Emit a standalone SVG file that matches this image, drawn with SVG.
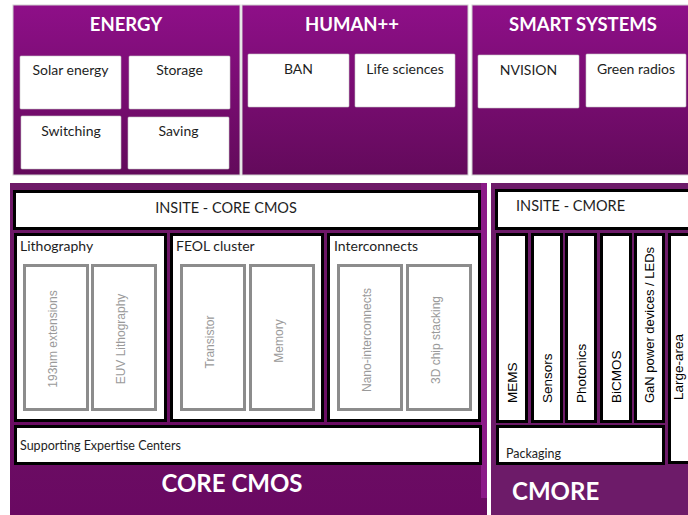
<svg xmlns="http://www.w3.org/2000/svg" width="688" height="515" viewBox="0 0 688 515">
<defs>
<linearGradient id="gTop" x1="0" y1="0" x2="0" y2="1">
<stop offset="0" stop-color="#8e0f88"/>
<stop offset="1" stop-color="#630a5b"/>
</linearGradient>
<linearGradient id="gCore" x1="0" y1="0" x2="0" y2="1">
<stop offset="0" stop-color="#6e1a68"/>
<stop offset="1" stop-color="#6a0962"/>
</linearGradient>
<style>
.ptop{fill:url(#gTop);stroke:#cfcfcf;stroke-width:1}
.wb{fill:#fff;stroke:#c8c8c8;stroke-width:0.6}
.bk{fill:#fff;stroke:#000;stroke-width:3}
.gr{fill:#fff;stroke:#8c8c8c;stroke-width:3}
.t{font-family:Lato,"Liberation Sans",sans-serif;font-size:14px;fill:#1e1e1e}
.h{font-family:Lato,"Liberation Sans",sans-serif;font-size:18.5px;font-weight:bold;fill:#fff;text-anchor:middle}
.big{font-family:Lato,"Liberation Sans",sans-serif;font-size:24px;font-weight:bold;fill:#fff}
.vg{font-family:"Liberation Sans",Arial,sans-serif;font-size:12px;fill:#9a9a9a;text-anchor:middle}
.vb{font-family:"Liberation Sans",Arial,sans-serif;font-size:13.5px;fill:#000}
.c{text-anchor:middle}
</style>
</defs>
<rect width="688" height="515" fill="#fff"/>

<g id="energy">
<rect class="ptop" x="13" y="5" width="227" height="170"/>
<text class="h" x="126" y="31">ENERGY</text>
<g id="solar"><rect class="wb" x="20" y="56" width="101" height="53" rx="1"/><text class="t c" x="70.5" y="75">Solar energy</text></g>
<g id="storage"><rect class="wb" x="129" y="56" width="101" height="53" rx="1"/><text class="t c" x="179.5" y="75">Storage</text></g>
<g id="switching"><rect class="wb" x="21" y="116" width="100" height="53" rx="1"/><text class="t c" x="71" y="136">Switching</text></g>
<g id="saving"><rect class="wb" x="128" y="117" width="101" height="52" rx="1"/><text class="t c" x="178.5" y="136">Saving</text></g>
</g>

<g id="human">
<rect class="ptop" x="242" y="5" width="226" height="170"/>
<text class="h" x="352" y="31">HUMAN++</text>
<g id="ban"><rect class="wb" x="248" y="54" width="101" height="53" rx="1"/><text class="t c" x="298.5" y="74">BAN</text></g>
<g id="life"><rect class="wb" x="355" y="54" width="100" height="53" rx="1"/><text class="t c" x="405" y="74">Life sciences</text></g>
</g>

<g id="smart">
<rect class="ptop" x="472" y="5" width="220" height="170"/>
<text class="h" x="583" y="31">SMART SYSTEMS</text>
<g id="nvision"><rect class="wb" x="478" y="55" width="101" height="53" rx="1"/><text class="t c" x="528.5" y="75">NVISION</text></g>
<g id="green"><rect class="wb" x="586" y="54" width="100" height="53" rx="1"/><text class="t c" x="636" y="74">Green radios</text></g>
</g>

<g id="corecmos">
<rect x="10" y="183" width="477" height="332" fill="url(#gCore)"/>
<rect x="481" y="183" width="6" height="315" fill="#8b1a88"/>
<g id="insite-core"><rect class="bk" x="14.5" y="191.5" width="465" height="37"/><text class="t c" x="226" y="213" style="font-size:14.5px">INSITE - CORE CMOS</text></g>
<g id="litho">
<rect class="bk" x="15.5" y="234.5" width="150" height="186"/>
<text class="t" x="20" y="251">Lithography</text>
<rect class="gr" x="24.5" y="265.5" width="63" height="144"/>
<text class="vg" transform="translate(57,339) rotate(-90)">193nm extensions</text>
<rect class="gr" x="92.5" y="265.5" width="63" height="144"/>
<text class="vg" transform="translate(125,339) rotate(-90)">EUV Lithography</text>
</g>
<g id="feol">
<rect class="bk" x="171.5" y="234.5" width="151" height="186"/>
<text class="t" x="176" y="251">FEOL cluster</text>
<rect class="gr" x="181.5" y="265.5" width="63" height="144"/>
<text class="vg" transform="translate(214,342) rotate(-90)">Transistor</text>
<rect class="gr" x="250.5" y="265.5" width="63" height="144"/>
<text class="vg" transform="translate(283,341) rotate(-90)">Memory</text>
</g>
<g id="interconnects">
<rect class="bk" x="328.5" y="234.5" width="151" height="186"/>
<text class="t" x="334" y="251">Interconnects</text>
<rect class="gr" x="338.5" y="265.5" width="63" height="144"/>
<text class="vg" transform="translate(371,340) rotate(-90)">Nano-interconnects</text>
<rect class="gr" x="407.5" y="265.5" width="63" height="144"/>
<text class="vg" transform="translate(440,340) rotate(-90)">3D chip stacking</text>
</g>
<g id="supporting"><rect class="bk" x="15.5" y="426.5" width="465" height="37"/><text class="t" x="20" y="450" style="font-size:12.5px">Supporting Expertise Centers</text></g>
<text class="big c" x="232" y="492">CORE CMOS</text>
</g>

<g id="cmore">
<rect x="491" y="183" width="197" height="332" fill="#6d1b69"/>
<g id="insite-cmore"><rect class="bk" x="496.5" y="190.5" width="195" height="38"/><text class="t" x="516" y="211" style="font-size:14.5px">INSITE - CMORE</text></g>
<g id="mems"><rect class="bk" x="497.5" y="234.5" width="29" height="187"/><text class="vb" transform="translate(517,403) rotate(-90)">MEMS</text></g>
<g id="sensors"><rect class="bk" x="532.5" y="234.5" width="29" height="187"/><text class="vb" transform="translate(552,403) rotate(-90)">Sensors</text></g>
<g id="photonics"><rect class="bk" x="566.5" y="234.5" width="29" height="187"/><text class="vb" transform="translate(586,403) rotate(-90)">Photonics</text></g>
<g id="bicmos"><rect class="bk" x="601.5" y="234.5" width="29" height="187"/><text class="vb" transform="translate(621,403) rotate(-90)">BiCMOS</text></g>
<g id="gan"><rect class="bk" x="635.5" y="234.5" width="28" height="187"/><text class="vb" transform="translate(654,403) rotate(-90)" style="font-size:13px">GaN power devices / LEDs</text></g>
<g id="largearea"><rect class="bk" x="669.5" y="234.5" width="22" height="228"/><text class="vb" transform="translate(683,400) rotate(-90)">Large-area</text></g>
<g id="packaging"><rect class="bk" x="497.5" y="426.5" width="166" height="37"/><text class="t" x="506" y="458" style="font-size:12.5px">Packaging</text></g>
<text class="big" x="512" y="500">CMORE</text>
</g>

<g id="connectors"/>
</svg>
